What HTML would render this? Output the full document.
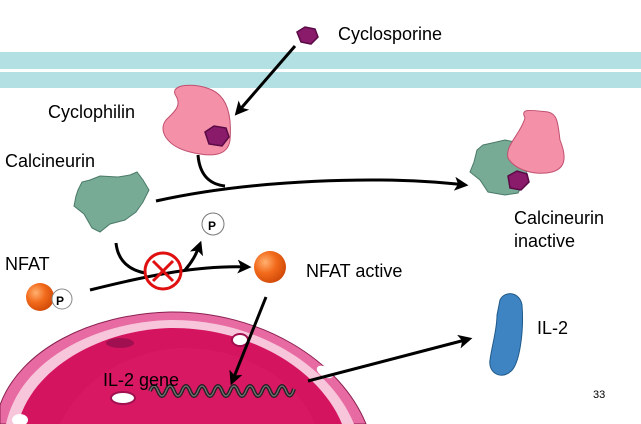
<!DOCTYPE html>
<html><head><meta charset="utf-8"><style>
body{margin:0;background:#fff}
svg{display:block}
text{font-family:"Liberation Sans",sans-serif;fill:#000}
</style></head><body>
<svg width="641" height="424" viewBox="0 0 641 424" xmlns="http://www.w3.org/2000/svg">
<defs>
<marker id="ah" markerWidth="14" markerHeight="14" refX="9" refY="6" orient="auto" markerUnits="userSpaceOnUse" viewBox="0 0 12 12"><path d="M0,0 L12,6 L0,12 L3,6 Z" fill="#000"/></marker>
<radialGradient id="og" cx="0.35" cy="0.35" r="0.7"><stop offset="0" stop-color="#ffb070"/><stop offset="0.5" stop-color="#f26a1b"/><stop offset="1" stop-color="#d04a08"/></radialGradient>
</defs>
<rect x="0" y="52" width="641" height="17" fill="#b3e1e3"/>
<rect x="0" y="72" width="641" height="16" fill="#b3e1e3"/>
<path d="M0 424 L0 405 C20 350 90 314 170 312 C260 311 340 360 366 424 Z" fill="#e86aa3" stroke="#8a2050" stroke-width="1"/>
<path d="M6 424 C20 360 95 322 170 320 C255 319 330 365 354 424 Z" fill="#f7c6da"/>
<path d="M18 424 C32 368 100 330 170 328 C250 327 320 370 342 424 Z" fill="#d4145f"/>
<path d="M60 424 C80 380 130 350 180 348 C250 347 300 385 315 424 Z" fill="#dc1a66" opacity="0.6"/>
<ellipse cx="120" cy="343" rx="14" ry="5" fill="#a01050"/>
<ellipse cx="123" cy="398" rx="12" ry="6" fill="#fff" stroke="#a01050" stroke-width="2"/>
<ellipse cx="240" cy="340" rx="8" ry="6" fill="#fff" stroke="#a01050" stroke-width="2"/>
<ellipse cx="20" cy="420" rx="8" ry="6" fill="#fff"/>
<ellipse cx="325" cy="372" rx="9" ry="5" fill="#fff" transform="rotate(30 325 372)"/>
<path d="M150 391 q4 -10 8 0 q4 10 8 0 q4 -10 8 0 q4 10 8 0 q4 -10 8 0 q4 10 8 0 q4 -10 8 0 q4 10 8 0 q4 -10 8 0 q4 10 8 0 q4 -10 8 0 q4 10 8 0 q4 -10 8 0 q4 10 8 0 q4 -10 8 0 q4 10 8 0 q4 -10 8 0 q4 10 8 -2" fill="none" stroke="#222" stroke-width="4"/>
<path d="M150 391 q4 -10 8 0 q4 10 8 0 q4 -10 8 0 q4 10 8 0 q4 -10 8 0 q4 10 8 0 q4 -10 8 0 q4 10 8 0 q4 -10 8 0 q4 10 8 0 q4 -10 8 0 q4 10 8 0 q4 -10 8 0 q4 10 8 0 q4 -10 8 0 q4 10 8 0 q4 -10 8 0 q4 10 8 -2" fill="none" stroke="#777" stroke-width="1.2"/>
<text x="103" y="386" font-size="18" fill="#3a0018">IL-2 gene</text>
<polygon points="297,32 305,27 315,29 318,37 311,44 301,42" fill="#8a1a6a" stroke="#5a0a45" stroke-width="1.5"/>
<text x="338" y="40" font-size="18">Cyclosporine</text>
<line x1="295" y1="46" x2="237" y2="113" stroke="#000" stroke-width="3" marker-end="url(#ah)"/>
<path d="M176 96 C168 84 195 82 212 90 C227 97 232 115 230 140 C228 157 210 157 190 152 C166 146 158 130 166 120 C174 112 182 106 176 96 Z" fill="#f490a8" stroke="#c05070" stroke-width="1"/>
<polygon points="205,132 214,126 226,128 229,137 222,146 209,144" fill="#8a1a6a" stroke="#5a0a45" stroke-width="1.5"/>
<text x="48" y="118" font-size="18">Cyclophilin</text>
<text x="5" y="167" font-size="18">Calcineurin</text>
<path d="M78 190 L82 182 L90 180 L100 176 L118 177 L130 175 L137 172 L143 180 L149 190 L143 202 L136 212 L125 220 L110 224 L100 232 L92 228 L84 214 L74 206 L76 196 Z" fill="#77ab96" stroke="#4a7a68" stroke-width="1"/>
<path d="M198 155 C200 180 215 185 225 186" fill="none" stroke="#000" stroke-width="3"/>
<path d="M156 201 C250 180 380 175 465 185" fill="none" stroke="#000" stroke-width="3" marker-end="url(#ah)"/>
<path d="M477 150 L483 145 L492 143 L505 140 L515 142 L522 150 L528 165 L525 180 L518 193 L505 195 L488 192 L480 180 L470 172 L474 162 Z" fill="#77ab96" stroke="#4a7a68" stroke-width="1"/>
<path d="M525 118 C520 108 530 110 548 112 C558 114 558 125 560 140 C566 155 567 168 552 172 C535 176 515 170 508 158 C505 145 520 135 525 118 Z" fill="#f490a8" stroke="#c05070" stroke-width="1"/>
<polygon points="508,176 517,171 527,174 529,182 521,190 510,188" fill="#8a1a6a" stroke="#5a0a45" stroke-width="1.5"/>
<text x="514" y="224" font-size="18">Calcineurin</text>
<text x="514" y="247" font-size="18">inactive</text>
<text x="5" y="270" font-size="18">NFAT</text>
<circle cx="40" cy="297" r="14" fill="url(#og)"/>
<circle cx="62" cy="299" r="10" fill="#fff" stroke="#888" stroke-width="1"/>
<text x="56" y="305" font-size="12" font-weight="bold">P</text>
<path d="M90 290 C150 275 200 265 248 267" fill="none" stroke="#000" stroke-width="3" marker-end="url(#ah)"/>
<path d="M116 243 C118 262 130 270 145 273" fill="none" stroke="#000" stroke-width="3"/>
<path d="M185 270 C192 262 196 255 200 244" fill="none" stroke="#000" stroke-width="3" marker-end="url(#ah)"/>
<circle cx="213" cy="224" r="11" fill="#fff" stroke="#777" stroke-width="1"/>
<text x="208" y="230" font-size="12" font-weight="bold">P</text>
<circle cx="163" cy="271" r="18" fill="none" stroke="#e01010" stroke-width="3"/>
<line x1="153" y1="261" x2="173" y2="281" stroke="#e01010" stroke-width="3"/>
<line x1="173" y1="261" x2="153" y2="281" stroke="#e01010" stroke-width="3"/>
<circle cx="270" cy="267" r="16" fill="url(#og)"/>
<text x="306" y="277" font-size="18">NFAT active</text>
<line x1="266" y1="297" x2="232" y2="382" stroke="#000" stroke-width="3" marker-end="url(#ah)"/>
<line x1="308" y1="381" x2="469" y2="339" stroke="#000" stroke-width="3" marker-end="url(#ah)"/>
<path d="M500 300 C505 290 520 292 522 305 C524 330 520 365 510 372 C500 380 488 372 490 360 C492 345 497 330 497 315 Z" fill="#3f84c2" stroke="#1f5a8a" stroke-width="1"/>
<text x="537" y="334" font-size="18">IL-2</text>
<text x="593" y="398" font-size="11">33</text>
</svg>
</body></html>
